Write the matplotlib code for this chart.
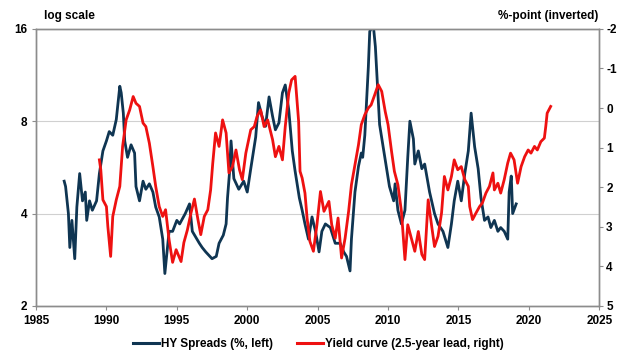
import matplotlib.pyplot as plt
from matplotlib.lines import Line2D

plt.rcParams['font.family'] = ['Liberation Sans', 'DejaVu Sans']
plt.rcParams['font.weight'] = 'bold'
plt.rcParams['axes.unicode_minus'] = False

# HY spreads (%, left axis, log scale)
hy_year = [1987.0, 1987.1, 1987.3, 1987.4, 1987.55, 1987.75, 1987.9, 1988.1, 1988.3, 1988.5,
           1988.6, 1988.8, 1989.0, 1989.3, 1989.5, 1989.75, 1990.0, 1990.2, 1990.45, 1990.7,
           1990.95, 1991.05, 1991.2, 1991.3, 1991.5, 1991.75, 1992.0, 1992.1, 1992.35, 1992.6,
           1992.8, 1993.05, 1993.3, 1993.5, 1993.75, 1994.0, 1994.15, 1994.45, 1994.7, 1995.0,
           1995.2, 1995.6, 1995.9, 1996.1, 1996.6, 1996.8, 1997.05, 1997.5, 1997.8, 1998.0,
           1998.3, 1998.5, 1998.6, 1998.75, 1998.85, 1999.05, 1999.4, 1999.75, 2000.0, 2000.25,
           2000.6, 2000.8, 2001.05, 2001.3, 2001.55, 2001.8, 2002.0, 2002.25, 2002.5, 2002.7,
           2002.95, 2003.2, 2003.4, 2003.7, 2003.9, 2004.1, 2004.35, 2004.6, 2004.85, 2005.1,
           2005.3, 2005.55, 2005.9, 2006.25, 2006.6, 2006.85, 2007.05, 2007.3, 2007.4, 2007.65,
           2007.9, 2008.1, 2008.2, 2008.35, 2008.6, 2008.7, 2008.95, 2009.1, 2009.25, 2009.4,
           2009.65, 2009.9, 2010.1, 2010.4, 2010.5, 2010.7, 2010.95, 2011.2, 2011.4, 2011.55,
           2011.8, 2011.9, 2012.15, 2012.4, 2012.6, 2012.95, 2013.3, 2013.55, 2013.9, 2014.25,
           2014.5, 2014.7, 2014.95, 2015.2, 2015.45, 2015.7, 2015.9, 2016.15, 2016.4, 2016.6,
           2016.85, 2017.1, 2017.3, 2017.55, 2017.8, 2018.0, 2018.25, 2018.5, 2018.6, 2018.75,
           2018.85, 2019.1]
hy_spread = [5.1, 4.9, 4.0, 3.1, 3.8, 2.85, 4.2, 5.4, 4.4, 4.7,
             3.8, 4.4, 4.1, 4.4, 5.4, 6.4, 6.9, 7.4, 7.2, 8.1,
             10.4, 9.9, 8.5, 6.9, 6.1, 6.7, 6.3, 4.9, 4.4, 5.1,
             4.8, 5.0, 4.7, 4.2, 3.9, 3.3, 2.55, 3.5, 3.5, 3.8,
             3.7, 4.0, 4.3, 3.5, 3.2, 3.1, 3.0, 2.85, 2.9, 3.2,
             3.4, 3.7, 4.5, 5.5, 6.9, 5.2, 4.8, 5.1, 4.7, 5.6,
             7.1, 9.2, 8.3, 7.7, 9.6, 8.3, 7.5, 7.9, 9.9, 10.5,
             8.7, 6.4, 5.5, 4.5, 4.1, 3.7, 3.3, 3.9, 3.5, 3.0,
             3.5, 3.7, 3.6, 3.2, 3.2, 3.0, 2.9, 2.6, 3.3, 4.7,
             5.7, 6.3, 6.1, 7.2, 12.0, 15.7, 16.5, 14.0, 10.5, 7.8,
             6.6, 5.6, 4.9, 4.4, 5.0, 4.1, 3.7, 4.1, 6.1, 8.0,
             7.0, 5.8, 6.4, 5.6, 5.8, 4.7, 4.0, 3.7, 3.5, 3.1,
             3.7, 4.4, 5.1, 4.4, 5.4, 6.4, 8.5, 6.6, 5.6, 4.5,
             3.8, 3.9, 3.6, 3.8, 3.5, 3.6, 3.5, 3.3, 4.7, 5.3,
             4.0, 4.3]

# Yield curve (2.5-year lead, %-point, right axis inverted)
yc_year = [1989.5, 1989.6, 1989.75, 1990.0, 1990.1, 1990.3, 1990.45, 1990.7, 1990.95, 1991.15,
           1991.4, 1991.65, 1991.9, 1992.1, 1992.35, 1992.6, 1992.8, 1993.05, 1993.3, 1993.5,
           1993.75, 1994.0, 1994.2, 1994.45, 1994.7, 1994.95, 1995.3, 1995.5, 1995.75, 1996.0,
           1996.25, 1996.5, 1996.7, 1996.95, 1997.2, 1997.4, 1997.55, 1997.75, 1998.0, 1998.25,
           1998.5, 1998.7, 1998.95, 1999.2, 1999.45, 1999.65, 1999.9, 2000.25, 2000.5, 2000.7,
           2000.95, 2001.2, 2001.45, 2001.8, 2002.0, 2002.25, 2002.5, 2002.7, 2002.95, 2003.15,
           2003.4, 2003.65, 2003.75, 2003.9, 2004.1, 2004.25, 2004.45, 2004.7, 2004.95, 2005.2,
           2005.45, 2005.8, 2006.0, 2006.25, 2006.45, 2006.7, 2006.95, 2007.2, 2007.4, 2007.65,
           2007.9, 2008.1, 2008.35, 2008.6, 2008.8, 2009.05, 2009.3, 2009.55, 2009.8, 2010.0,
           2010.25, 2010.45, 2010.7, 2010.95, 2011.2, 2011.4, 2011.65, 2011.9, 2012.15, 2012.4,
           2012.6, 2012.85, 2013.1, 2013.3, 2013.55, 2013.8, 2014.0, 2014.25, 2014.5, 2014.7,
           2014.95, 2015.2, 2015.45, 2015.7, 2015.8, 2016.0, 2016.25, 2016.5, 2016.7, 2016.95,
           2017.2, 2017.45, 2017.55, 2017.8, 2018.0, 2018.25, 2018.5, 2018.7, 2018.95, 2019.2,
           2019.45, 2019.7, 2019.95, 2020.15, 2020.4, 2020.6, 2020.85, 2021.1, 2021.2, 2021.3,
           2021.55]
yc_spread = [1.31, 1.56, 2.32, 2.49, 2.99, 3.75, 2.74, 2.32, 1.98, 0.97,
             0.3, 0.05, -0.29, -0.12, -0.04, 0.38, 0.47, 0.89, 1.48, 1.98,
             2.49, 2.74, 2.57, 3.33, 3.9, 3.58, 3.88, 3.4, 3.08, 2.66,
             2.3, 2.82, 3.2, 2.74, 2.57, 2.07, 1.4, 0.63, 0.97, 0.3,
             0.63, 1.64, 1.48, 1.06, 1.56, 1.81, 1.14, 0.55, 0.47, 0.21,
             0.05, 0.47, 0.3, 0.8, 1.23, 0.97, 1.31, 0.47, -0.38, -0.71,
             -0.8, 0.34, 1.6, 1.77, 2.15, 2.78, 3.37, 3.62, 2.95, 2.11,
             2.61, 2.36, 2.95, 3.29, 2.78, 3.79, 3.29, 2.61, 1.94, 1.43,
             0.93, 0.42, 0.17, 0.0, -0.08, -0.33, -0.59, -0.42, 0.09, 0.42,
             1.1, 1.6, 1.94, 2.61, 3.83, 2.95, 3.29, 3.62, 3.12, 3.7,
             3.83, 2.32, 2.99, 3.5, 3.24, 2.65, 1.73, 2.07, 1.73, 1.31,
             1.56, 1.48, 1.81, 1.98, 2.49, 2.82, 2.65, 2.49, 2.4, 2.15,
             1.98, 1.64, 2.07, 1.9, 2.15, 1.81, 1.39, 1.14, 1.31, 1.9,
             1.48, 1.23, 1.06, 1.14, 0.97, 1.06, 0.85, 0.76, 0.47, 0.13,
             -0.04]

navy = '#0f3552'
red = '#ee1111'
grey = '#8c8c8c'

fig, ax = plt.subplots(figsize=(6.21, 3.52), dpi=100)
fig.subplots_adjust(left=0.058, right=0.965, bottom=0.131, top=0.918)

ax.plot(hy_year, hy_spread, color=navy, lw=2.0)
ax.set_yscale('log', base=2)
ax.set_ylim(2, 16)
ax.set_yticks([2, 4, 8, 16])
ax.set_yticklabels(['2', '4', '8', '16'])
ax.minorticks_off()
ax.set_xlim(1985, 2025)
ax.set_xticks(range(1985, 2026, 5))
ax.grid(axis='y', color='#d0d0d0', lw=0.8)
ax.set_axisbelow(True)

ax2 = ax.twinx()
ax2.plot(yc_year, yc_spread, color=red, lw=2.0)
ax2.set_ylim(5, -2)
ax2.set_yticks(range(-2, 6))

for a in (ax, ax2):
    for s in a.spines.values():
        s.set_color(grey)
        s.set_linewidth(1.0)
    a.tick_params(labelsize=8.5, color=grey, length=3)
ax2.tick_params(pad=2)

fig.text(0.071, 0.955, 'log scale', fontsize=8.5, fontweight='bold', va='center')
fig.text(0.963, 0.955, '%-point (inverted)', fontsize=8.5, fontweight='bold',
         va='center', ha='right')

handles = [Line2D([], [], color=navy, lw=2.2), Line2D([], [], color=red, lw=2.2)]
fig.legend(handles, ['HY Spreads (%, left)', 'Yield curve (2.5-year lead, right)'],
           loc='center', bbox_to_anchor=(0.513, 0.022), ncol=2, frameon=False,
           fontsize=8.5, handlelength=2.2, handletextpad=0.2, columnspacing=2.0,
           borderpad=0.0)

fig.savefig('out.png', dpi=100)
